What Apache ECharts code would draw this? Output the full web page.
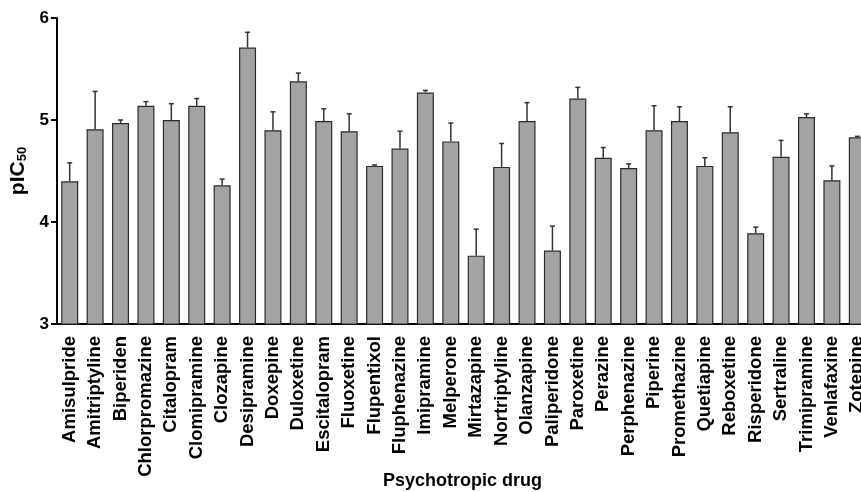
<!DOCTYPE html>
<html>
<head>
<meta charset="utf-8">
<script src="https://cdn.jsdelivr.net/npm/echarts@6/dist/echarts.min.js"></script>
<style>
html,body{margin:0;padding:0;background:#fff;}
#c{width:861px;height:492px;}
</style>
</head>
<body>
<div id="c"></div>
<script>
const categories = ["Amisulpride","Amitriptyline","Biperiden","Chlorpromazine","Citalopram","Clomipramine","Clozapine","Desipramine","Doxepine","Duloxetine","Escitalopram","Fluoxetine","Flupentixol","Fluphenazine","Imipramine","Melperone","Mirtazapine","Nortriptyline","Olanzapine","Paliperidone","Paroxetine","Perazine","Perphenazine","Piperine","Promethazine","Quetiapine","Reboxetine","Risperidone","Sertraline","Trimipramine","Venlafaxine","Zotepine"];
const meanValues = [4.40,4.91,4.97,5.14,5.00,5.14,4.36,5.71,4.90,5.38,4.99,4.89,4.55,4.72,5.27,4.79,3.67,4.54,4.99,3.72,5.21,4.63,4.53,4.90,4.99,4.55,4.88,3.89,4.64,5.03,4.41,4.83];
const semValues = [0.18,0.37,0.03,0.04,0.16,0.07,0.06,0.15,0.18,0.08,0.12,0.17,0.01,0.17,0.02,0.18,0.26,0.23,0.18,0.24,0.11,0.10,0.04,0.24,0.14,0.08,0.25,0.06,0.16,0.03,0.14,0.01];
const yTicks = [3,4,5,6];
const xTitle = 'Psychotropic drug';

const FONT = "'Liberation Sans', Arial, sans-serif";
const errData = meanValues.map((v,i)=>[i, v, v + semValues[i]]);

const chart = echarts.init(document.getElementById('c'), null, {renderer:'canvas'});
chart.setOption({
  animation:false,
  backgroundColor:'#fff',
  title:{text:xTitle,left:383,top:472,padding:0,
    textStyle:{fontFamily:FONT,fontWeight:'bold',fontSize:18,color:'#000'}},
  grid:{left:57, top:18, width:813, height:306, containLabel:false, outerBoundsMode:'none'},
  xAxis:{
    type:'category',
    data:categories,
    axisLine:{lineStyle:{color:'#000',width:2}},
    axisTick:{alignWithLabel:true,length:8,lineStyle:{color:'#000',width:2}},
    axisLabel:{rotate:90,interval:0,margin:12,fontFamily:FONT,fontWeight:'bold',fontSize:18.5,color:'#000'}
  },
  yAxis:{
    type:'value',
    min:yTicks[0], max:yTicks[yTicks.length-1], interval:1,
    name:'pIC{sub|50}',
    nameLocation:'middle',
    nameGap:25,
    nameRotate:90,
    nameTextStyle:{fontFamily:FONT,fontWeight:'bold',fontSize:21,color:'#000',
      rich:{sub:{fontFamily:FONT,fontWeight:'bold',fontSize:13,color:'#000',verticalAlign:'bottom',padding:[8,0,0,0]}}},
    splitLine:{show:false},
    axisLine:{show:true,lineStyle:{color:'#000',width:2}},
    axisTick:{show:true,length:6,lineStyle:{color:'#000',width:2}},
    axisLabel:{margin:8,fontFamily:FONT,fontWeight:'bold',fontSize:17,color:'#000'}
  },
  series:[
    {
      type:'bar',
      data:meanValues,
      barWidth:17,
      itemStyle:{color:'#a3a3a3',borderColor:'#2b2b2b',borderWidth:1.2},
      z:2
    },
    {
      type:'custom',
      data:errData,
      z:3,
      renderItem:function(params, api){
        const x = api.value(0);
        const lo = api.coord([x, api.value(1)]);
        const hi = api.coord([x, api.value(2)]);
        const cap = 2.5;
        return {type:'group',children:[
          {type:'line',shape:{x1:lo[0],y1:lo[1],x2:hi[0],y2:hi[1]},style:{stroke:'#333',lineWidth:1.5}},
          {type:'line',shape:{x1:hi[0]-cap,y1:hi[1],x2:hi[0]+cap,y2:hi[1]},style:{stroke:'#333',lineWidth:1.5}}
        ]};
      }
    }
  ]
});
</script>
</body>
</html>
